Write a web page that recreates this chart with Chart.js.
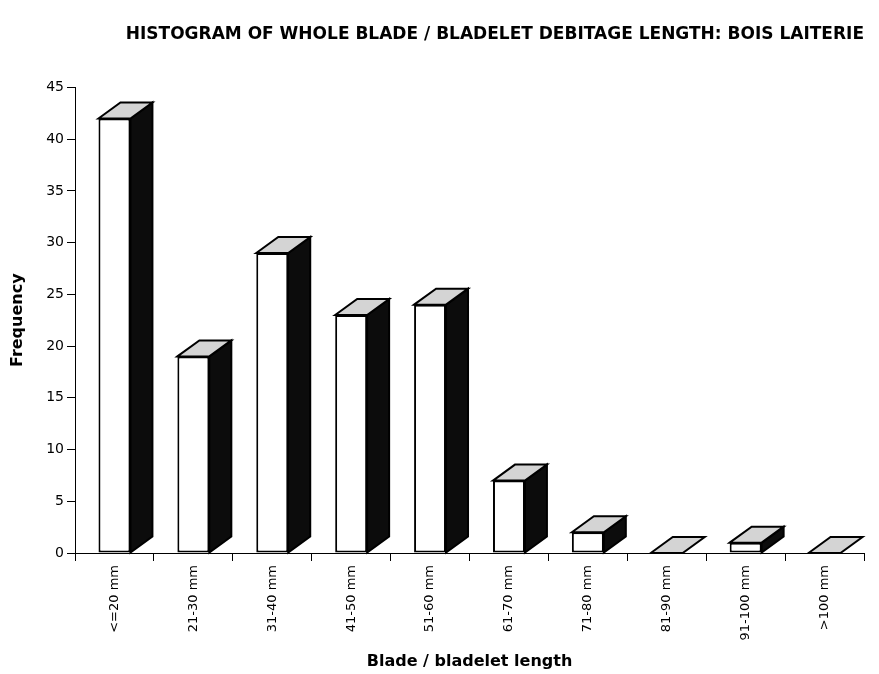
<!DOCTYPE html>
<html>
<head>
<meta charset="utf-8">
<script src="https://cdn.jsdelivr.net/npm/chart.js@4/dist/chart.umd.min.js"></script>
<style>
  html, body { margin: 0; padding: 0; background: #fff; }
  #wrap { width: 879px; height: 674px; }
</style>
</head>
<body>
<div id="wrap"><canvas id="c" width="879" height="674"></canvas></div>
<script>
// Length classes of whole blades / bladelets and their counts
const categories = ['<=20 mm', '21-30 mm', '31-40 mm', '41-50 mm', '51-60 mm',
                    '61-70 mm', '71-80 mm', '81-90 mm', '91-100 mm', '>100 mm'];
const frequency = [42, 19, 29, 23, 24, 7, 2, 0, 1, 0];
const yTicks = [0, 5, 10, 15, 20, 25, 30, 35, 40, 45];

const chartTitle = 'HISTOGRAM OF WHOLE BLADE / BLADELET DEBITAGE LENGTH: BOIS LAITERIE';
const xTitle = 'Blade / bladelet length';
const yTitle = 'Frequency';

const FONT = "'DejaVu Sans', 'Liberation Sans', Arial, sans-serif";

// Draws the depth of each column: a dark side face and a shaded top face
const columnDepth = {
  id: 'columnDepth',
  afterDatasetsDraw(chart) {
    const ctx = chart.ctx;
    const dx = 22, dy = -16;
    chart.getDatasetMeta(0).data.forEach((bar) => {
      const p = bar.getProps(['x', 'y', 'base', 'width'], true);
      const l = p.x - p.width / 2, r = p.x + p.width / 2;
      const top = Math.min(p.y, p.base), base = Math.max(p.y, p.base);
      ctx.save();
      ctx.lineJoin = 'miter';
      ctx.strokeStyle = '#000';
      ctx.lineWidth = 2;
      // side face
      if (base - top > 0.5) {
        ctx.beginPath();
        ctx.moveTo(r, top);
        ctx.lineTo(r + dx, top + dy);
        ctx.lineTo(r + dx, base + dy);
        ctx.lineTo(r, base);
        ctx.closePath();
        ctx.fillStyle = '#0c0c0c';
        ctx.fill();
        ctx.stroke();
      }
      // top face
      ctx.beginPath();
      ctx.moveTo(l, top);
      ctx.lineTo(l + dx, top + dy);
      ctx.lineTo(r + dx, top + dy);
      ctx.lineTo(r, top);
      ctx.closePath();
      ctx.fillStyle = '#d4d4d4';
      ctx.fill();
      ctx.stroke();
      ctx.restore();
    });
  }
};

new Chart(document.getElementById('c'), {
  type: 'bar',
  data: {
    labels: categories,
    datasets: [{
      data: frequency,
      backgroundColor: '#ffffff',
      borderColor: '#000000',
      borderWidth: 2,
      borderSkipped: false,
      barPercentage: 0.405,
      categoryPercentage: 1.0
    }]
  },
  options: {
    responsive: false,
    animation: false,
    devicePixelRatio: 1,
    layout: { padding: { left: 0, right: 15, top: 0, bottom: 0 } },
    plugins: {
      legend: { display: false },
      tooltip: { enabled: false },
      title: {
        display: true,
        text: chartTitle,
        align: 'end',
        color: '#000',
        font: { family: FONT, size: 17, weight: 'bold' },
        padding: { top: 24, bottom: 43 }
      }
    },
    scales: {
      x: {
        offset: true,
        border: { display: true, color: '#000', width: 1 },
        grid: { display: true, offset: true, drawOnChartArea: false, drawTicks: true,
                tickLength: 8, color: '#000' },
        ticks: { color: '#000', minRotation: 90, maxRotation: 90, padding: 4,
                 font: { family: FONT, size: 13 } },
        title: { display: true, text: xTitle, color: '#000',
                 font: { family: FONT, size: 16, weight: 'bold' },
                 padding: { top: 0, bottom: 3 } },
        afterFit(scale) { scale.height = 121; }
      },
      y: {
        min: 0,
        max: 45,
        border: { display: true, color: '#000', width: 1 },
        grid: { display: true, drawOnChartArea: false, drawTicks: true,
                tickLength: 8, color: '#000' },
        afterBuildTicks(scale) { scale.ticks = yTicks.map(v => ({ value: v })); },
        ticks: { color: '#000', padding: 3, font: { family: FONT, size: 14 } },
        title: { display: true, text: yTitle, color: '#000',
                 font: { family: FONT, size: 16, weight: 'bold' },
                 padding: { top: 8, bottom: 0 } },
        afterFit(scale) { scale.width = 75; }
      }
    }
  },
  plugins: [columnDepth]
});
</script>
</body>
</html>
